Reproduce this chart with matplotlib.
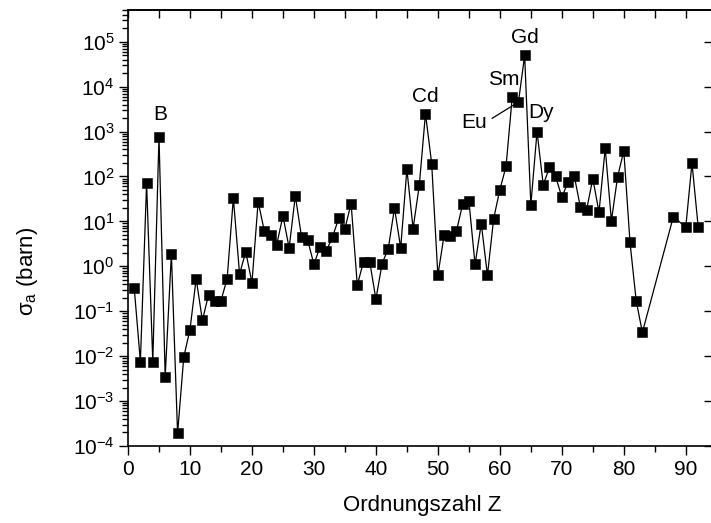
import numpy as np
import matplotlib
matplotlib.use("Agg")
import matplotlib.pyplot as plt
from matplotlib.ticker import LogLocator, NullLocator, MultipleLocator

plt.rcParams['font.family'] = ['Liberation Sans', 'DejaVu Sans']
plt.rcParams['mathtext.fontset'] = 'custom'
plt.rcParams['mathtext.rm'] = 'Liberation Sans'
plt.rcParams['mathtext.default'] = 'regular'
plt.rcParams['axes.unicode_minus'] = False
plt.rcParams['font.size'] = 15

# thermal neutron absorption cross sections (barn) by atomic number
z = list(range(1, 84)) + [88, 90, 91, 92]
sigma_a = [
    0.333, 0.0075, 70.5, 0.0076, 767, 0.0035, 1.9, 0.00019, 0.0096, 0.039,   # 1-10
    0.53, 0.063, 0.231, 0.171, 0.172, 0.53, 33.5, 0.675, 2.1, 0.43,          # 11-20
    27.5, 6.09, 5.08, 3.05, 13.3, 2.56, 37.2, 4.49, 3.78, 1.11,              # 21-30
    2.75, 2.2, 4.5, 11.7, 6.9, 25, 0.38, 1.28, 1.28, 0.185,                  # 31-40
    1.15, 2.48, 20, 2.56, 145, 6.9, 63.3, 2520, 194, 0.626,                  # 41-50
    4.91, 4.7, 6.15, 23.9, 29, 1.1, 8.97, 0.63, 11.5, 50.5,                  # 51-60
    168, 5920, 4530, 49700, 23.4, 994, 64.7, 159, 100, 34.8,                 # 61-70
    74, 104, 20.6, 18.3, 89.7, 16, 425, 10.3, 98.7, 372,                     # 71-80
    3.43, 0.171, 0.0338,                                                     # 81-83
    12.8, 7.37, 201, 7.57,                                                   # Ra, Th, Pa, U
]

# element labels: (text, x, baseline y)
labels = [
    ("B", 5.16, 10**3.257),
    ("Cd", 47.9, 10**3.658),
    ("Sm", 60.67, 10**4.037),
    ("Gd", 63.98, 10**4.972),
    ("Dy", 66.65, 10**3.302),
]

fig = plt.figure(figsize=(7.11, 5.23), dpi=100)
ax = fig.add_axes([128 / 711, 77 / 523, 583.8 / 711, 436 / 523])

ax.plot(z, sigma_a, '-', color='black', lw=0.9, zorder=2)
ax.plot(z, sigma_a, 's', color='black', ms=7.3, mec='black', mew=0.4, zorder=3)

ax.set_yscale('log')
ax.set_xlim(0, 94.2)
ax.set_ylim(1e-4, 10**5.706)

ax.xaxis.set_major_locator(MultipleLocator(10))
ax.xaxis.set_minor_locator(MultipleLocator(5))
ax.yaxis.set_major_locator(LogLocator(base=10, numticks=20))
ax.yaxis.set_minor_locator(LogLocator(base=10, subs=np.arange(2, 10), numticks=20))

ax.tick_params(which='major', direction='out', length=6.3, width=1.0, pad=3.5)
ax.tick_params(which='minor', direction='out', length=4.0, width=1.0)
for sp in ax.spines.values():
    sp.set_linewidth(1.2)

# inward ticks on the top and right edges
top = ax.secondary_xaxis('top')
top.xaxis.set_major_locator(MultipleLocator(5))
top.tick_params(direction='in', length=5.8, width=1.0, labeltop=False)
top.spines['top'].set_linewidth(1.2)

right = ax.secondary_yaxis('right')
right.yaxis.set_major_locator(LogLocator(base=10, numticks=20))
right.yaxis.set_minor_locator(NullLocator())
right.tick_params(direction='in', length=5.8, width=1.0, labelright=False)

ax.set_xlabel('Ordnungszahl Z', fontsize=16)
ax.xaxis.set_label_coords(0.504, -0.112)
ax.set_ylabel(r'σ$_{a}$ (barn)', fontsize=16)
ax.yaxis.set_label_coords(-0.150, 0.40)

for name, lx, ly in labels:
    ax.text(lx, ly, name, ha='center', va='baseline', fontsize=15)

ax.annotate('Eu', xy=(63, 4530), xytext=(55.83, 10**3.079),
            ha='center', va='baseline', fontsize=15,
            arrowprops=dict(arrowstyle='-', color='black', lw=0.9,
                            relpos=(1.0, 0.55), shrinkA=2, shrinkB=3.5))

fig.savefig('out.png', dpi=100)
